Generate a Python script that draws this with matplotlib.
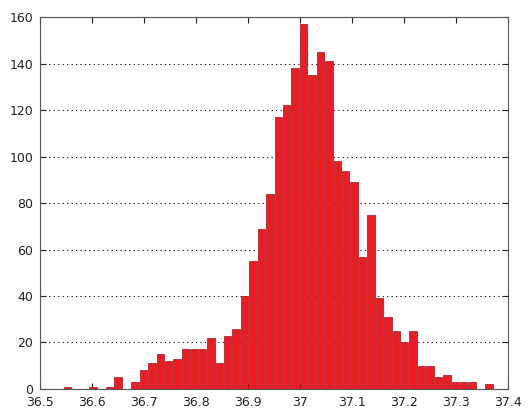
import matplotlib
matplotlib.use("Agg")
import matplotlib.pyplot as plt
import numpy as np

# Histogram counts (51 bins)
counts = [1, 0, 0, 1, 0, 1, 5, 0, 3, 8,
          11, 15, 12, 13, 17, 17, 17, 22, 11, 23,
          26, 40, 55, 69, 84, 117, 122, 138, 157, 135,
          145, 141, 98, 94, 89, 57, 75, 39, 31, 25,
          20, 25, 10, 10, 5, 6, 3, 3, 3, 0, 2]
first_edge = 36.5448
bin_width = 0.01622

x_ticks = [36.5, 36.6, 36.7, 36.8, 36.9, 37.0, 37.1, 37.2, 37.3, 37.4]
x_tick_labels = ["36.5", "36.6", "36.7", "36.8", "36.9", "37", "37.1", "37.2", "37.3", "37.4"]
y_ticks = [0, 20, 40, 60, 80, 100, 120, 140, 160]

fig = plt.figure(figsize=(5.28, 4.15), dpi=100)
ax = fig.add_axes([0.0758, 0.0627, 0.886, 0.896])

lefts = first_edge + bin_width * np.arange(len(counts))
ax.bar(lefts + bin_width * 0.06, counts, width=bin_width * 0.88, align="edge",
       color="#ec1c24", edgecolor="#a0141a", linewidth=0.5, zorder=3)

ax.set_xlim(36.5, 37.4)
ax.set_ylim(0, 160)
ax.set_xticks(x_ticks)
ax.set_xticklabels(x_tick_labels)
ax.set_yticks(y_ticks)
ax.yaxis.grid(True, linestyle=(0, (1, 3)), color="black", linewidth=0.8, zorder=1)
ax.set_axisbelow(True)
ax.tick_params(direction="in", top=True, right=True, length=4, width=0.8,
               labelsize=9, colors="#222222", pad=5)
for s in ax.spines.values():
    s.set_color("#555555")
    s.set_linewidth(0.8)

fig.savefig("out.png", dpi=100)
